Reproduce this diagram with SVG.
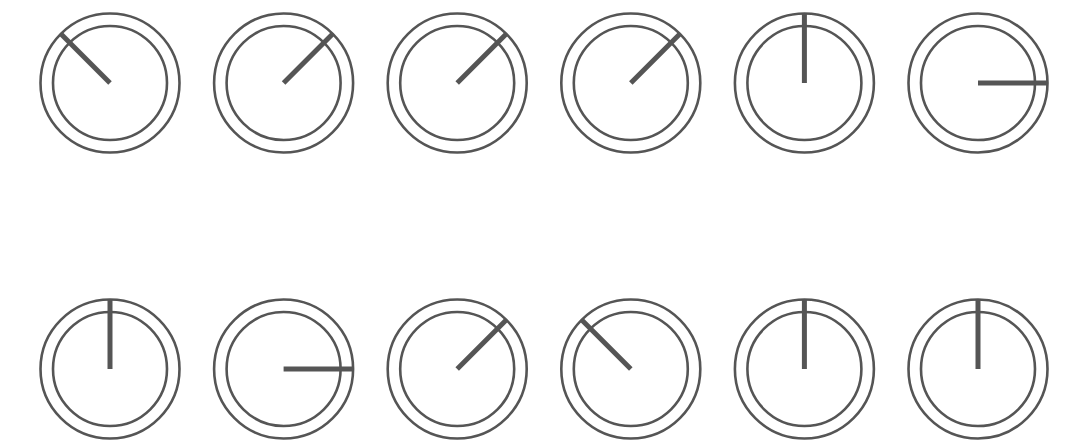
<svg xmlns="http://www.w3.org/2000/svg" width="1085" height="445" viewBox="0 0 1085 445">
<style>
.ring{fill:none;stroke:#555;stroke-width:2.6}
.needle{stroke:#555;stroke-width:5}
</style>
<defs>
<g id="dial"><circle class="ring" r="69.5"/><circle class="ring" r="57"/></g>
</defs>
<rect width="1085" height="445" fill="#fff"/>
<g id="d1" transform="translate(110,83)"><use href="#dial"/><line class="needle" x1="0" y1="0" x2="-49.5" y2="-49.5"/></g>
<g id="d2" transform="translate(283.6,83)"><use href="#dial"/><line class="needle" x1="0" y1="0" x2="49.5" y2="-49.5"/></g>
<g id="d3" transform="translate(457.2,83)"><use href="#dial"/><line class="needle" x1="0" y1="0" x2="49.5" y2="-49.5"/></g>
<g id="d4" transform="translate(630.8,83)"><use href="#dial"/><line class="needle" x1="0" y1="0" x2="49.5" y2="-49.5"/></g>
<g id="d5" transform="translate(804.4,83)"><use href="#dial"/><line class="needle" x1="0" y1="0" x2="0" y2="-70"/></g>
<g id="d6" transform="translate(978,83)"><use href="#dial"/><line class="needle" x1="0" y1="0" x2="70" y2="0"/></g>
<g id="d7" transform="translate(110,369)"><use href="#dial"/><line class="needle" x1="0" y1="0" x2="0" y2="-70"/></g>
<g id="d8" transform="translate(283.6,369)"><use href="#dial"/><line class="needle" x1="0" y1="0" x2="70" y2="0"/></g>
<g id="d9" transform="translate(457.2,369)"><use href="#dial"/><line class="needle" x1="0" y1="0" x2="49.5" y2="-49.5"/></g>
<g id="d10" transform="translate(630.8,369)"><use href="#dial"/><line class="needle" x1="0" y1="0" x2="-49.5" y2="-49.5"/></g>
<g id="d11" transform="translate(804.4,369)"><use href="#dial"/><line class="needle" x1="0" y1="0" x2="0" y2="-70"/></g>
<g id="d12" transform="translate(978,369)"><use href="#dial"/><line class="needle" x1="0" y1="0" x2="0" y2="-70"/></g>
</svg>
